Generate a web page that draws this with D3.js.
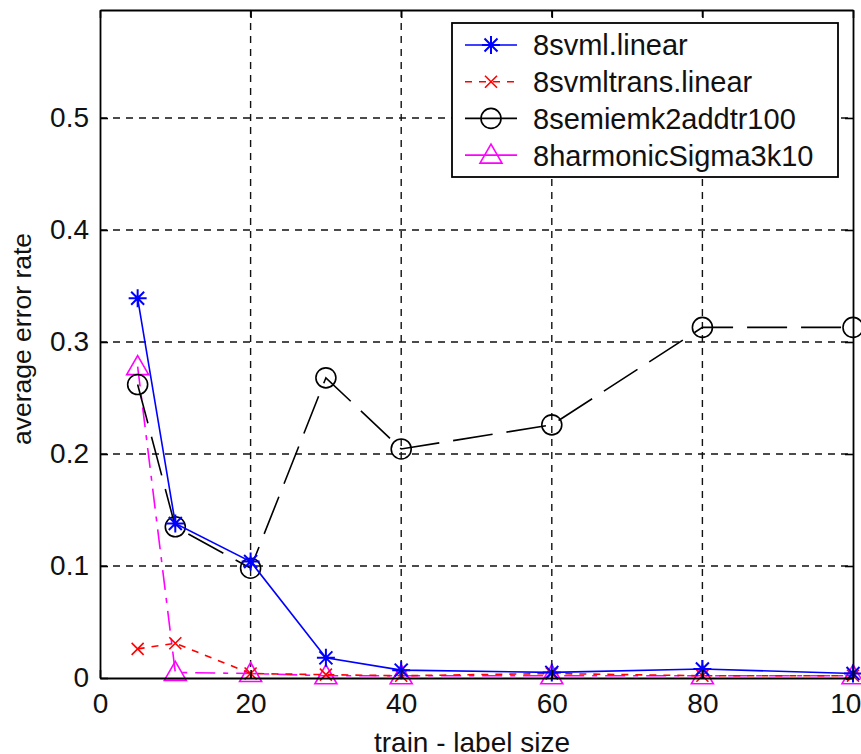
<!DOCTYPE html>
<html><head><meta charset="utf-8">
<script src="https://cdn.jsdelivr.net/npm/d3@7"></script>
<style>body{margin:0;background:#fff;overflow:hidden}</style>
</head><body><svg id="c" width="861" height="754"></svg>
<script>
const xValues = [5, 10, 20, 30, 40, 60, 80, 100];
const svmlLinear = [0.339, 0.138, 0.104, 0.018, 0.007, 0.005, 0.008, 0.004];
const svmlTransLinear = [0.026, 0.031, 0.004, 0.003, 0.002, 0.004, 0.002, 0.002];
const semiEmk = [0.262, 0.135, 0.098, 0.268, 0.2045, 0.226, 0.313, 0.313];
const harmonic = [0.278, 0.005, 0.004, 0.002, 0.002, 0.002, 0.002, 0.002];
const seriesNames = ["8svml.linear", "8svmltrans.linear", "8semiemk2addtr100", "8harmonicSigma3k10"];
const xTicks = [0, 20, 40, 60, 80, 100];
const yTicks = [0, 0.1, 0.2, 0.3, 0.4, 0.5];
const xLabel = "train - label size";
const yLabel = "average error rate";

const svg = d3.select("#c");
const L = 100, R = 853, T = 10, B = 678;
const x = d3.scaleLinear().domain([0, 100]).range([L, R]);
const y = d3.scaleLinear().domain([0, 0.5964]).range([B, T]);
const font = "'Liberation Sans', Arial, sans-serif";

svg.append("rect").attr("x", 0).attr("y", 0).attr("width", 861).attr("height", 754).attr("fill", "#fff");

// grid
const g = svg.append("g");
g.selectAll(".gx").data(xTicks.filter(d => d > 0 && d < 100)).join("line")
  .attr("x1", d => x(d)).attr("x2", d => x(d)).attr("y1", T).attr("y2", B)
  .attr("stroke", "#111").attr("stroke-width", 1.4).attr("stroke-dasharray", "7,6");
g.selectAll(".gy").data(yTicks.filter(d => d > 0)).join("line")
  .attr("y1", d => y(d)).attr("y2", d => y(d)).attr("x1", L).attr("x2", R)
  .attr("stroke", "#111").attr("stroke-width", 1.4).attr("stroke-dasharray", "7,6");

const series = [
  {name: seriesNames[0], vals: svmlLinear, color: "#0000ff", dash: null, marker: "asterisk"},
  {name: seriesNames[1], vals: svmlTransLinear, color: "#ff0000", dash: "7,7", marker: "x"},
  {name: seriesNames[2], vals: semiEmk, color: "#000000", dash: "40,14", marker: "circle"},
  {name: seriesNames[3], vals: harmonic, color: "#ff00ff", dash: "20,8,5,8", marker: "triangle"}
];

function markerPath(type) {
  const p = d3.path();
  if (type === "asterisk") {
    const r = 9, d = 6.5;
    p.moveTo(-r, 0); p.lineTo(r, 0);
    p.moveTo(0, -r); p.lineTo(0, r);
    p.moveTo(-d, -d); p.lineTo(d, d);
    p.moveTo(-d, d); p.lineTo(d, -d);
  } else if (type === "x") {
    const d = 6;
    p.moveTo(-d, -d); p.lineTo(d, d);
    p.moveTo(-d, d); p.lineTo(d, -d);
  } else if (type === "circle") {
    p.moveTo(10, 0); p.arc(0, 0, 10, 0, 2 * Math.PI);
  } else if (type === "triangle") {
    p.moveTo(0, -11); p.lineTo(11, 8); p.lineTo(-11, 8); p.closePath();
  }
  return p.toString();
}

const line = d3.line().x(d => x(d[0])).y(d => y(d[1]));
const plotOrder = [3, 2, 1, 0];
plotOrder.forEach(i => {
  const s = series[i];
  const pts = xValues.map((xv, k) => [xv, s.vals[k]]);
  svg.append("path").datum(pts).attr("d", line).attr("fill", "none")
    .attr("stroke", s.color).attr("stroke-width", 1.6)
    .attr("stroke-dasharray", s.dash);
  svg.selectAll(null).data(pts).join("path")
    .attr("transform", d => `translate(${x(d[0])},${y(d[1])})`)
    .attr("d", markerPath(s.marker)).attr("fill", "none")
    .attr("stroke", s.color).attr("stroke-width", s.marker === "asterisk" ? 2 : 1.6);
});

// axes (inward ticks)
const axB = svg.append("g").attr("transform", `translate(0,${B})`)
  .call(d3.axisBottom(x).tickValues(xTicks).tickSize(-8).tickSizeOuter(0).tickPadding(15).tickFormat(d3.format("d")));
const axT = svg.append("g").attr("transform", `translate(0,${T})`)
  .call(d3.axisTop(x).tickValues(xTicks).tickSize(-8).tickSizeOuter(0).tickFormat(""));
const axLft = svg.append("g").attr("transform", `translate(${L},0)`)
  .call(d3.axisLeft(y).tickValues(yTicks).tickSize(-8).tickSizeOuter(0).tickPadding(11).tickFormat(d => d === 0 ? "0" : d3.format(".1f")(d)));
const axRt = svg.append("g").attr("transform", `translate(${R},0)`)
  .call(d3.axisRight(y).tickValues(yTicks).tickSize(-8).tickSizeOuter(0).tickFormat(""));
[axB, axT, axLft, axRt].forEach(a => {
  a.selectAll("path.domain").attr("stroke", "#000").attr("stroke-width", 1.8);
  a.selectAll(".tick line").attr("stroke", "#000").attr("stroke-width", 1.6);
  a.selectAll("text").attr("font-family", font).attr("font-size", 28).attr("fill", "#111");
});

// axis labels
svg.append("text").attr("x", 472).attr("y", 752).attr("text-anchor", "middle")
  .attr("font-family", font).attr("font-size", 28).attr("fill", "#111").text(xLabel);
svg.append("text").attr("transform", "translate(31,339) rotate(-90)").attr("text-anchor", "middle")
  .attr("font-family", font).attr("font-size", 26.5).attr("fill", "#111").text(yLabel);

// legend
const lg = svg.append("g");
lg.append("rect").attr("x", 452).attr("y", 23).attr("width", 386).attr("height", 154)
  .attr("fill", "#fff").attr("stroke", "#000").attr("stroke-width", 1.8);
series.forEach((s, i) => {
  const cy = 45 + i * 36.7;
  lg.append("line").attr("x1", 465).attr("x2", 517).attr("y1", cy).attr("y2", cy)
    .attr("stroke", s.color).attr("stroke-width", 1.6)
    .attr("stroke-dasharray", i === 1 ? "7,7" : null);
  lg.append("path").attr("transform", `translate(491,${cy})`).attr("d", markerPath(s.marker))
    .attr("fill", "none").attr("stroke", s.color).attr("stroke-width", s.marker === "asterisk" ? 2 : 1.6);
  lg.append("text").attr("x", 533).attr("y", cy).attr("dy", "0.36em")
    .attr("font-family", font).attr("font-size", 29).attr("fill", "#111").text(s.name);
});
</script></body></html>
